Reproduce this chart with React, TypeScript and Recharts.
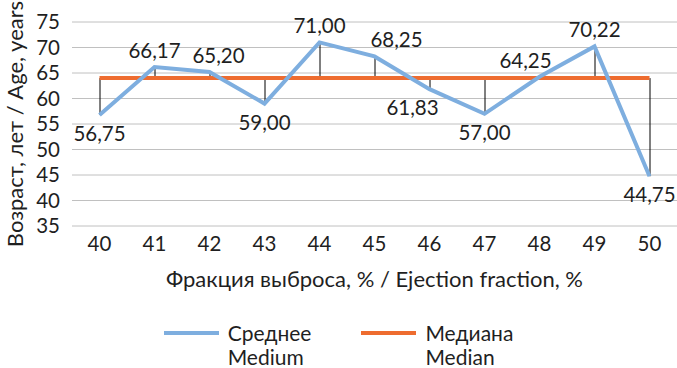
import React from 'react';
import { ComposedChart, Line, Bar, XAxis, YAxis, CartesianGrid, Legend, LabelList } from 'recharts';

const categories = ['40', '41', '42', '43', '44', '45', '46', '47', '48', '49', '50'];
const meanValues = [56.75, 66.17, 65.2, 59.0, 71.0, 68.25, 61.83, 57.0, 64.25, 70.22, 44.75];
const medianValue = 64;
const yTicks = [35, 40, 45, 50, 55, 60, 65, 70, 75];

const meanName = 'Среднее\nMedium';
const medianName = 'Медиана\nMedian';
const xTitle = 'Фракция выброса, % / Ejection fraction, %';
const yTitle = 'Возраст, лет / Age, years';

// label horizontal nudges (style, not data)
const LABEL_DX = [0, 0, 9, 0, 0, 22, -17, 0, -14, 0, 0];

const data = categories.map((c, i) => ({
  cat: c,
  mean: meanValues[i],
  median: medianValue,
  drop: [Math.min(meanValues[i], medianValue), Math.max(meanValues[i], medianValue)],
}));

const FONT = 'Lato, "Liberation Sans", sans-serif';
const TXT = '#1f1f1f';
const BLUE = '#7eaedf';
const ORANGE = '#ee6c2f';

const DropLine = (props: any) => {
  const { x, y, width, height } = props;
  if (x == null || y == null) return null;
  const cx = x + width / 2;
  return <line x1={cx} x2={cx} y1={y} y2={y + height} stroke="#000" strokeWidth={1} />;
};

const MeanLabel = (props: any) => {
  const { x, y, value, index } = props;
  const above = value > medianValue;
  const txt = Number(value).toFixed(2).replace('.', ',');
  return (
    <text
      x={x + (LABEL_DX[index] || 0)}
      y={above ? y - 17 : y + 18}
      textAnchor="middle"
      dominantBaseline="central"
      fontFamily={FONT}
      fontSize={20.5}
      fill={TXT}
    >
      {txt}
    </text>
  );
};

const YTitle = (props: any) => {
  const vb = props.viewBox || {};
  const cx = 14;
  const cy = (vb.y || 0) + (vb.height || 0) / 2;
  return (
    <text
      x={cx}
      y={cy}
      transform={`rotate(-90, ${cx}, ${cy})`}
      textAnchor="middle"
      dominantBaseline="central"
      fontFamily={FONT}
      fontSize={22}
      fill={TXT}
    >
      {yTitle}
    </text>
  );
};

const LegendContent = (props: any) => {
  const items = (props.payload || []).filter((p: any) => p.type !== 'none').slice().reverse();
  return (
    <div style={{ display: 'flex', justifyContent: 'center', gap: 50, fontFamily: FONT, fontSize: 21, color: TXT, lineHeight: '24px' }}>
      {items.map((p: any) => (
        <div key={p.value} style={{ display: 'flex', alignItems: 'flex-start' }}>
          <div style={{ width: 55, height: 4, background: p.color, marginTop: 10, marginRight: 9 }} />
          <div style={{ textAlign: 'left' }}>
            {String(p.value).split('\n').map((s: string) => (
              <div key={s}>{s}</div>
            ))}
          </div>
        </div>
      ))}
    </div>
  );
};

export default function App() {
  return (
    <div style={{ position: 'absolute', left: 0, top: 0, width: 677, height: 368, background: '#fff', overflow: 'hidden' }}>
      <ComposedChart width={677} height={368} data={data} margin={{ top: 22, right: 0, bottom: 0, left: 0 }}>
        <CartesianGrid vertical={false} stroke="#c0c0c0" strokeWidth={1} />
        <XAxis
          dataKey="cat"
          axisLine={false}
          tickLine={false}
          height={70}
          interval={0}
          tick={{ fontFamily: FONT, fontSize: 20.5, fill: TXT }}
          tickMargin={4}
          label={{ value: xTitle, position: 'insideBottom', offset: 9, fontFamily: FONT, fontSize: 22, fill: TXT }}
        />
        <YAxis
          domain={[35, 75]}
          ticks={yTicks}
          width={72}
          axisLine={false}
          tickLine={false}
          tickMargin={6}
          interval={0}
          tick={{ fontFamily: FONT, fontSize: 20.5, fill: TXT }}
          label={<YTitle />}
        />
        <Bar dataKey="drop" shape={<DropLine />} legendType="none" isAnimationActive={false} barSize={2} />
        <Line
          dataKey="median"
          name={medianName}
          stroke={ORANGE}
          strokeWidth={4}
          dot={false}
          activeDot={false}
          isAnimationActive={false}
        />
        <Line
          dataKey="mean"
          name={meanName}
          stroke={BLUE}
          strokeWidth={4}
          dot={false}
          activeDot={false}
          isAnimationActive={false}
        >
          <LabelList dataKey="mean" content={<MeanLabel />} />
        </Line>
        <Legend
          verticalAlign="bottom"
          height={72}
          content={<LegendContent />}
          wrapperStyle={{ top: 321, left: 0, width: 677 }}
        />
      </ComposedChart>
    </div>
  );
}
